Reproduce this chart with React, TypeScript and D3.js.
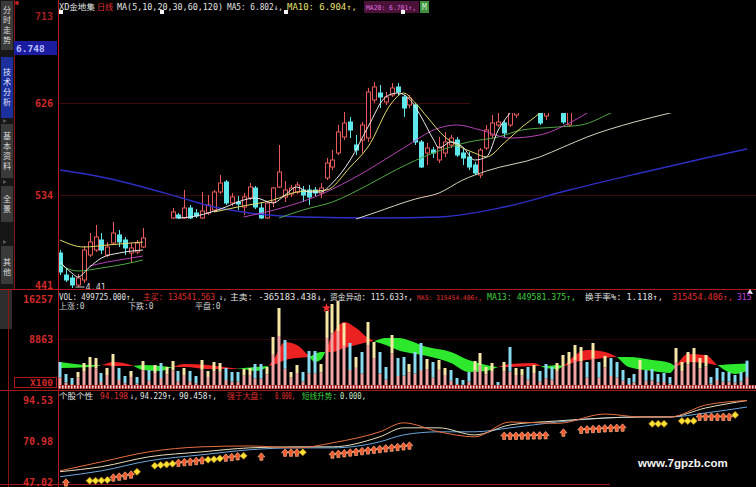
import React from "react";
import * as d3 from "d3";

type Pt = [number, number];

const BAR_COUNT = 117;

// Daily bars: [bar index, open, high, low, close]
const candles: [number, number, number, number, number][] = [
  [0, 4.76, 4.79, 4.54, 4.57], [1, 4.54, 4.61, 4.47, 4.49], [2, 4.51, 4.54, 4.41, 4.44],
  [3, 4.44, 4.55, 4.42, 4.51], [4, 4.49, 4.83, 4.46, 4.79], [5, 4.74, 4.96, 4.72, 4.87],
  [6, 4.79, 5.04, 4.77, 4.92], [7, 4.89, 4.96, 4.75, 4.79], [8, 4.74, 4.87, 4.72, 4.82],
  [9, 4.86, 5.07, 4.84, 4.96], [10, 4.94, 4.99, 4.82, 4.87], [11, 4.89, 4.92, 4.74, 4.81],
  [12, 4.76, 4.86, 4.66, 4.81], [13, 4.77, 4.89, 4.75, 4.86], [14, 4.82, 5.01, 4.81, 4.91],
  [19, 5.11, 5.21, 5.1, 5.17], [20, 5.14, 5.16, 5.1, 5.11], [21, 5.11, 5.39, 5.1, 5.21],
  [22, 5.21, 5.24, 5.1, 5.11], [23, 5.16, 5.2, 5.11, 5.13], [24, 5.11, 5.37, 5.1, 5.18],
  [25, 5.16, 5.34, 5.14, 5.24], [26, 5.19, 5.39, 5.17, 5.37], [27, 5.37, 5.54, 5.35, 5.46],
  [28, 5.47, 5.49, 5.24, 5.26], [29, 5.26, 5.36, 5.23, 5.32], [30, 5.27, 5.33, 5.19, 5.25],
  [31, 5.22, 5.36, 5.14, 5.32], [32, 5.31, 5.46, 5.29, 5.42], [33, 5.41, 5.43, 5.2, 5.22],
  [34, 5.21, 5.26, 5.1, 5.11], [35, 5.11, 5.27, 5.1, 5.26], [36, 5.27, 5.42, 5.22, 5.41],
  [37, 5.42, 5.84, 5.41, 5.57], [38, 5.32, 5.48, 5.27, 5.39], [39, 5.35, 5.44, 5.32, 5.41],
  [40, 5.37, 5.47, 5.35, 5.44], [41, 5.39, 5.43, 5.27, 5.34], [42, 5.39, 5.44, 5.24, 5.32],
  [43, 5.39, 5.42, 5.33, 5.36], [44, 5.36, 5.46, 5.31, 5.41], [45, 5.51, 5.71, 5.49, 5.66],
  [46, 5.62, 5.79, 5.59, 5.69], [47, 5.76, 6.04, 5.74, 5.97], [48, 5.92, 6.17, 5.89, 6.06],
  [49, 6.07, 6.12, 5.91, 5.99], [50, 5.84, 5.94, 5.74, 5.79], [51, 5.89, 6.07, 5.76, 6.04],
  [52, 5.91, 6.41, 5.87, 6.37], [53, 6.29, 6.47, 6.26, 6.42], [54, 6.36, 6.44, 6.21, 6.32],
  [55, 6.27, 6.37, 6.24, 6.32], [56, 6.34, 6.46, 6.32, 6.41], [57, 6.42, 6.46, 6.34, 6.37],
  [58, 6.32, 6.34, 6.12, 6.21], [59, 6.24, 6.34, 6.21, 6.31], [60, 6.24, 6.26, 5.84, 5.87],
  [61, 5.87, 5.89, 5.61, 5.62], [62, 5.76, 5.86, 5.64, 5.81], [63, 5.79, 5.82, 5.71, 5.76],
  [64, 5.69, 5.92, 5.66, 5.82], [65, 5.76, 5.97, 5.72, 5.87], [66, 5.84, 5.94, 5.81, 5.91],
  [67, 5.89, 5.92, 5.72, 5.74], [68, 5.76, 5.81, 5.64, 5.71], [69, 5.72, 5.77, 5.59, 5.62],
  [70, 5.64, 5.67, 5.54, 5.56], [71, 5.54, 5.81, 5.51, 5.79], [72, 5.81, 6.04, 5.79, 5.99],
  [73, 5.94, 6.14, 5.91, 6.06], [74, 6.04, 6.16, 6.02, 6.07], [75, 6.06, 6.09, 5.92, 5.96],
  [76, 6.04, 6.24, 6.02, 6.17], [77, 6.14, 6.29, 6.11, 6.24], [78, 6.22, 6.34, 6.2, 6.3],
  [79, 6.28, 6.4, 6.26, 6.35], [80, 6.33, 6.42, 6.3, 6.38], [81, 6.28, 6.3, 6.04, 6.06],
  [82, 6.13, 6.27, 6.09, 6.24], [83, 6.25, 6.36, 6.22, 6.33], [84, 6.3, 6.38, 6.26, 6.34],
  [85, 6.3, 6.32, 6.05, 6.07], [86, 6.04, 6.24, 6.02, 6.2],
];

// Moving averages of the close: [bar index, price]; null breaks the line
const ma5: (Pt | null)[] = [
  [0, 4.67], [2, 4.56], [3, 4.52], [5, 4.62], [7, 4.71], [10, 4.76], [14, 4.79], null,
  [20, 5.11], [22, 5.12], [25, 5.16], [28, 5.22], [30, 5.27], [33, 5.31], [36, 5.26], [38, 5.34],
  [40, 5.42], [42, 5.37], [44, 5.37], [46, 5.46], [49, 5.69], [52, 6.02], [55, 6.32], [57, 6.36],
  [59, 6.3], [61, 6.12], [63, 5.9], [64, 5.81], [66, 5.87], [68, 5.82], [70, 5.69], [72, 5.72],
  [74, 5.99], [76, 6.16], [78, 6.29], [116, 6.802],
];
const ma10: (Pt | null)[] = [
  [0, 4.89], [4, 4.82], [8, 4.84], [14, 4.87], null,
  [26, 5.17], [30, 5.22], [36, 5.29], [40, 5.37], [45, 5.39], [49, 5.62], [52, 5.82], [56, 6.26],
  [58, 6.36], [60, 6.26], [62, 6.12], [65, 5.92], [67, 5.84], [70, 5.76], [72, 5.72], [75, 5.86],
  [78, 6.02], [81, 6.16], [83, 6.28], [116, 6.904],
];
const ma20: (Pt | null)[] = [
  [5, 4.63], [8, 4.67], [11, 4.7], [14, 4.73], null,
  [31, 5.12], [38, 5.22], [43, 5.32], [49, 5.49], [52, 5.59], [58, 5.81], [64, 6.01], [67, 6.04],
  [71, 5.99], [76, 5.91], [81, 5.94], [86, 6.06], [89, 6.16], [91, 6.24], [116, 6.701],
];
const ma30: (Pt | null)[] = [
  [0, 4.64], [3, 4.58], [7, 4.61], [11, 4.65], [14, 4.69], null,
  [37, 5.11], [41, 5.19], [46, 5.27], [52, 5.44], [57, 5.6], [63, 5.76], [69, 5.87], [74, 5.92],
  [78, 5.99], [84, 6.02], [88, 6.04], [93, 6.16], [96, 6.24],
];
const ma60: (Pt | null)[] = [
  [50, 5.1], [53, 5.16], [60, 5.3], [64, 5.36], [68, 5.49], [72, 5.58], [81, 5.72], [85, 5.82],
  [89, 5.92], [97, 6.07], [103, 6.16], [107, 6.22],
];
const ma120: (Pt | null)[] = [
  [0, 5.59], [7, 5.52], [14, 5.42], [20, 5.32], [26, 5.22], [32, 5.16], [41, 5.12], [54, 5.11],
  [64, 5.12], [75, 5.22], [86, 5.39], [98, 5.56], [109, 5.71], [116, 5.8],
];

// Volume in lots of 100 shares, one per bar
const volumes: number[] = [
  4749, 2557, 1827, 2923, 4567, 5662, 5480, 2740, 3653, 6210, 3653, 2192, 3105, 2009, 4932, 3288,
  4201, 4567, 3836, 4932, 3105, 3653, 3105, 2192, 5114, 3105, 4749, 4567, 3653, 2923, 2923, 3471,
  3653, 4384, 4384, 3836, 9316, 14613, 8768, 2923, 4201, 2923, 6758, 6758, 4384, 14065, 15343, 15891,
  11873, 8220, 5662, 6576, 12056, 8402, 6576, 3836, 9681, 5480, 5662, 4384, 6576, 8220, 5297, 4749,
  5114, 3653, 3288, 1827, 1461, 2923, 4932, 6393, 3836, 4567, 1096, 4749, 7489, 3653, 3471, 3836,
  4201, 3105, 4384, 3836, 4567, 6028, 6576, 7854, 7489, 4749, 8220, 4749, 5845, 5480, 4749, 3288,
  1827, 2557, 5114, 3288, 3471, 2557, 2740, 2009, 7306, 4749, 6576, 7306, 5480, 6028, 2009, 3653,
  2923, 2923, 2375, 2923, 4997.25,
];
// 1 = rising day, 0 = falling day
const volRise: number[] = [
  0, 0, 0, 1, 1, 1, 1, 0, 1, 1, 0, 0, 1, 0, 1, 0, 1, 0, 1, 1, 0, 1, 0, 0, 1, 1, 1, 1, 0, 0, 0, 1,
  1, 0, 0, 1, 1, 1, 0, 1, 1, 0, 0, 0, 1, 1, 1, 1, 1, 0, 1, 0, 1, 1, 0, 0, 1, 0, 0, 1, 0, 0, 1, 0,
  1, 1, 0, 0, 0, 0, 1, 1, 1, 1, 0, 1, 0, 1, 1, 0, 1, 0, 0, 0, 1, 1, 1, 1, 1, 0, 1, 0, 1, 0, 0, 0,
  0, 0, 1, 0, 0, 0, 0, 0, 1, 1, 1, 1, 1, 1, 0, 0, 0, 0, 0, 0, 0,
];
const volMa5: Pt[] = [
  [0, 3653], [5, 3836], [7, 4201], [9, 4749], [12, 4201], [14, 3288], [17, 3105], [19, 3836],
  [21, 4384], [25, 4201], [29, 3653], [31, 3471], [33, 3105], [35, 3836], [36, 5114], [38, 8402],
  [40, 7854], [42, 5845], [43, 4749], [44, 5114], [46, 9681], [48, 12056], [50, 10960], [52, 9133],
  [53, 8585], [55, 7854], [57, 6941], [62, 5845], [66, 4567], [69, 2923], [72, 3105], [74, 3836],
  [76, 4384], [80, 4567], [82, 3653], [84, 3471], [85, 4019], [87, 6028], [89, 6941], [92, 6576],
  [94, 5662], [96, 3836], [100, 3105], [103, 2740], [104, 4019], [106, 6210], [109, 6028],
  [111, 4201], [114, 2557], [116, 3154.54],
];
const volMa13: Pt[] = [
  [0, 4749], [5, 4201], [7, 4201], [9, 4019], [12, 4019], [14, 4201], [17, 4019], [19, 3836],
  [21, 3836], [25, 3471], [29, 3471], [31, 3653], [33, 3836], [35, 4019], [36, 4201], [38, 5114],
  [40, 5480], [42, 5662], [43, 6210], [44, 6576], [46, 6576], [48, 7306], [50, 7854], [52, 8402],
  [53, 8585], [55, 9133], [57, 9133], [62, 7489], [66, 6576], [69, 5114], [72, 4201], [74, 3836],
  [76, 3836], [80, 4019], [82, 4019], [84, 4201], [85, 4019], [87, 4749], [89, 5114], [92, 5480],
  [94, 5662], [96, 5662], [100, 5114], [103, 4567], [104, 4019], [106, 4749], [109, 4567],
  [111, 4201], [114, 4384], [116, 4495.81],
];

// 个股个性 indicator lines
const indOrange: Pt[] = [
  [0, 53.5], [7, 58.7], [15, 64.5], [24, 67.4], [32, 67.9], [40, 66.8], [46, 69.7], [54, 76.1],
  [58, 81.3], [64, 76.1], [70, 73.2], [76, 81.8], [84, 81.0], [92, 86.4], [98, 84.7], [103, 84.7],
  [109, 91.6], [116, 94.198],
];
const indPale: Pt[] = [
  [0, 53.0], [7, 55.9], [15, 61.6], [24, 64.5], [32, 66.8], [40, 67.4], [46, 67.4], [54, 73.2],
  [58, 78.4], [64, 78.4], [70, 74.3], [76, 80.1], [84, 82.4], [92, 84.1], [98, 84.7], [103, 84.7],
  [109, 89.9], [116, 94.229],
];
const indBlue: Pt[] = [
  [0, 50.1], [7, 53.5], [15, 59.3], [24, 62.8], [32, 65.7], [40, 66.8], [46, 66.8], [54, 70.3],
  [58, 74.3], [64, 76.1], [70, 76.1], [76, 78.4], [84, 81.8], [92, 84.1], [98, 84.7], [103, 84.7],
  [109, 87.0], [116, 90.458],
];

// Signals: [bar index, indicator value, kind] ('a' = buy arrow, 'd' = diamond)
const signals: [number, number, string][] = [
  [1, 46.6, "a"],
  [5, 47.8, "d"], [6, 47.8, "d"], [7, 47.9, "d"], [8, 48.2, "d"],
  [9, 49.5, "a"], [10, 50.0, "a"], [11, 50.6, "a"], [12, 51.2, "a"], [13, 52.9, "d"],
  [16, 56.4, "d"], [17, 56.8, "d"], [18, 57.2, "d"], [19, 57.6, "d"],
  [20, 58.0, "a"], [21, 58.4, "a"], [22, 58.7, "a"], [23, 59.1, "a"], [24, 59.5, "a"],
  [25, 59.9, "d"], [26, 60.2, "d"], [27, 60.6, "d"],
  [28, 61.0, "a"], [29, 61.4, "a"], [30, 61.8, "a"], [31, 62.2, "d"],
  [34, 61.6, "a"],
  [38, 63.9, "a"], [39, 63.9, "a"], [40, 63.9, "a"], [41, 64.2, "d"],
  [46, 62.8, "a"], [47, 63.2, "a"], [48, 63.6, "a"], [49, 64.0, "a"], [50, 64.4, "a"],
  [51, 64.8, "a"], [52, 65.2, "a"], [53, 65.6, "a"], [54, 66.0, "a"], [55, 66.4, "a"],
  [56, 66.8, "a"], [57, 67.2, "a"], [58, 67.6, "a"], [59, 68.0, "a"],
  [75, 73.7, "a"], [76, 73.7, "a"], [77, 73.7, "a"], [78, 73.8, "a"], [79, 73.8, "a"],
  [80, 73.9, "a"], [81, 73.9, "a"], [82, 74.0, "a"],
  [85, 75.5, "a"],
  [88, 77.2, "a"], [89, 77.4, "a"], [90, 77.6, "a"], [91, 77.8, "a"], [92, 78.0, "a"],
  [93, 78.2, "a"], [94, 78.3, "a"], [95, 78.4, "a"],
  [100, 80.7, "d"], [101, 80.7, "d"], [102, 80.7, "d"],
  [105, 82.4, "d"], [106, 82.4, "d"], [107, 82.4, "d"],
  [108, 84.7, "a"], [109, 84.7, "a"], [110, 84.7, "a"], [111, 84.7, "a"], [112, 84.7, "a"],
  [113, 84.7, "a"], [114, 85.9, "d"],
];

const priceTicks = [7.13, 6.26, 5.34, 4.41];
const volTicks = [16257, 8863];
const indTicks = [94.53, 70.98, 47.02];
const lastPrice = 6.748;
const lowBar = 2;
const lowPrice = 4.41;
const starBar = 45;

const sideTabs = [
  { label: "分时走势", top: 1, bottom: 50, first: 9, step: 10, active: false },
  { label: "技术分析", top: 57, bottom: 118, first: 71, step: 10, active: true },
  { label: "基本资料", top: 124, bottom: 178, first: 135, step: 10, active: false },
  { label: "全景", top: 186, bottom: 222, first: 198, step: 10, active: false },
  { label: "其他", top: 246, bottom: 284, first: 261, step: 10, active: false },
];

const MONO = "'DejaVu Sans Mono', 'Noto Sans CJK SC', monospace";
const RED = "#d42a2a";

// A text run squeezed into a fixed horizontal span
function Run(props: { x: number; y: number; w: number; fill: string; size?: number; children: string }) {
  return (
    <text x={props.x} y={props.y} fill={props.fill} fontSize={props.size} textLength={props.w} lengthAdjust="spacingAndGlyphs">
      {props.children}
    </text>
  );
}

export default function App() {
  const x = d3.scaleLinear().domain([0, BAR_COUNT - 1]).range([60, 747]);
  const yP = d3.scaleLinear().domain([4.39, 7.29]).range([290, 0]);
  const yV = d3.scaleLinear().domain([0, 16257]).range([388, 299]);
  const yI = d3.scaleLinear().domain([47.02, 94.53]).range([482, 400]);
  const cx = (i: number) => Math.round(x(i)) + 0.5;

  const maPath = d3
    .line<Pt | null>()
    .defined((d) => d !== null)
    .x((d) => x((d as Pt)[0]))
    .y((d) => yP((d as Pt)[1]))
    .curve(d3.curveMonotoneX);

  const volArea = (edge: number) =>
    d3
      .area<Pt>()
      .x((d) => x(d[0]))
      .y0(edge)
      .y1((d) => yV(d[1]))
      .curve(d3.curveMonotoneX);

  const aboveMa13 = volArea(290)(volMa13) || "";
  const belowMa13 = volArea(388)(volMa13) || "";
  const aboveMa5 = volArea(290)(volMa5) || "";
  const belowMa5 = volArea(388)(volMa5) || "";

  const indPath = d3
    .line<Pt>()
    .x((d) => x(d[0]))
    .y((d) => yI(d[1]))
    .curve(d3.curveMonotoneX);

  const maStyles: [(Pt | null)[], string, number][] = [
    [ma120, "#2e2ec4", 1.4],
    [ma60, "#d8d2bc", 1],
    [ma30, "#4fa843", 1],
    [ma20, "#b443b4", 1],
    [ma10, "#e4dc6a", 1],
    [ma5, "#ececec", 1],
  ];

  const star = d3.symbol().type(d3.symbolStar).size(28)() || "";

  return (
    <div style={{ position: "fixed", left: 0, top: 0, width: 756, height: 487, background: "#000" }}>
      <svg width={756} height={487} style={{ display: "block" }} fontFamily={MONO}>
        <defs>
          <clipPath id="price-area">
            <rect x={59} y={14} width={697} height={275} />
          </clipPath>
          <clipPath id="clip-above-ma13">
            <path d={aboveMa13} />
          </clipPath>
          <clipPath id="clip-above-ma5">
            <path d={aboveMa5} />
          </clipPath>
        </defs>
        <rect width={756} height={487} fill="#000" />

        {/* side tabs */}
        <rect x={0} y={0} width={14} height={289} fill="#161616" />
        {sideTabs.map((t) => (
          <g key={t.label}>
            <rect x={1} y={t.top} width={12} height={t.bottom - t.top} fill={t.active ? "#1c2f9c" : "#3a3a3a"} />
            {Array.from(t.label).map((ch, k) => (
              <text key={k} x={7} y={t.first + k * t.step + 3.5} fontSize={8} fill={t.active ? "#e8ecff" : "#dcdcdc"} textAnchor="middle" fontFamily="'Noto Sans CJK SC', sans-serif">
                {ch}
              </text>
            ))}
          </g>
        ))}
        {[121, 182, 242].map((yy) => (
          <path key={yy} d={`M3,${yy - 2} L7,${yy} L3,${yy + 2} Z`} fill="#555" />
        ))}
        <rect x={0} y={289} width={12} height={40} fill="#2e2e2e" />
        <line x1={14.5} y1={0} x2={14.5} y2={289} stroke="#8a1414" />
        <line x1={8.5} y1={289} x2={8.5} y2={487} stroke="#8a1414" />
        <line x1={58.5} y1={0} x2={58.5} y2={487} stroke="#b41c1c" />

        {/* price panel grid and labels */}
        {priceTicks.slice(1, 3).map((t) => (
          <line key={t} x1={59} x2={756} y1={Math.round(yP(t)) + 0.5} y2={Math.round(yP(t)) + 0.5} stroke="#3c0c0c" />
        ))}
        <circle cx={17} cy={3} r={2} fill="#c02020" />
        {priceTicks.map((t, k) => (
          <text key={t} x={53} y={Math.min(Math.max(yP(t), 7), 285) + 4} fontSize={10} fontWeight="bold" fill={k === 0 ? "#a82020" : RED} textAnchor="end">
            {Math.round(t * 100)}
          </text>
        ))}
        <rect x={14} y={41} width={43} height={14} fill="#1c1ca0" />
        <text x={16} y={51.5} fontSize={9.5} fontWeight="bold" fill="#b8c0ff">
          {lastPrice.toFixed(3)}
        </text>

        {/* candles and moving averages */}
        <g clipPath="url(#price-area)">
          {candles.map(([i, o, h, l, c]) => {
            const up = c >= o;
            const xc = cx(i);
            const top = yP(Math.max(o, c));
            const bot = yP(Math.min(o, c));
            const col = up ? "#e85a5a" : "#5ee8ec";
            return (
              <g key={i}>
                <line x1={xc} x2={xc} y1={yP(h)} y2={top} stroke={col} />
                <line x1={xc} x2={xc} y1={bot} y2={yP(l)} stroke={col} />
                <rect x={xc - 2} y={top} width={4} height={Math.max(bot - top, 1)} fill={up ? "#000" : col} stroke={col} strokeWidth={1} />
              </g>
            );
          })}
          {maStyles.map(([data, color, w], k) => (
            <path key={k} d={maPath(data) || ""} fill="none" stroke={color} strokeWidth={w} />
          ))}
          <line x1={cx(lowBar) + 3} x2={cx(lowBar) + 12} y1={yP(lowPrice) - 1} y2={yP(lowPrice) - 1} stroke="#cfcfcf" />
          <text x={cx(lowBar) + 13} y={yP(lowPrice) + 2} fontSize={8.5} fill="#d8d8d8">
            {lowPrice.toFixed(2)}
          </text>
          <rect x={470} y={14} width={286} height={99} fill="#000" />
        </g>

        {/* price title */}
        <rect x={364} y={1} width={55} height={12} fill="#4a1236" />
        <rect x={420} y={1} width={9} height={12} fill="#3f8f3f" />
        <g fontSize={8} fontFamily={MONO}>
          <Run x={59} y={10} w={36} fill="#e4e4e4">XD金地集</Run>
          <Run x={97} y={10} w={16} fill="#e03030">日线</Run>
          <Run x={117} y={10} w={106} fill="#e4e4e4">MA(5,10,20,30,60,120)</Run>
          <Run x={227} y={10} w={56} fill="#e4e4e4">MA5: 6.802↓,</Run>
          <Run x={287} y={10} w={70} fill="#e8e070">MA10: 6.904↑,</Run>
          <Run x={366} y={10} w={50} size={6.6} fill="#e070e8">MA20: 6.701↑,</Run>
          <text x={422} y={10} fill="#d0f8d0">M</text>
        </g>
        {[61, 162, 286, 403].map((mx) => (
          <rect key={mx} x={mx - 2} y={10} width={4} height={4} fill="#f4f4f4" />
        ))}

        {/* volume panel */}
        <line x1={0} x2={756} y1={289.5} y2={289.5} stroke="#b01818" />
        <line x1={59} x2={756} y1={Math.round(yV(8863)) + 0.5} y2={Math.round(yV(8863)) + 0.5} stroke="#2a0808" />
        <path d={belowMa5} fill="#ec2222" clipPath="url(#clip-above-ma13)" />
        <path d={belowMa13} fill="#2ee82e" clipPath="url(#clip-above-ma5)" />
        {volumes.map((v, i) => {
          const xc = Math.round(x(i));
          const top = yV(v);
          const base = 388;
          const frac = volRise[i] ? 0.35 : 0.6;
          const split = top + (base - top) * frac;
          return (
            <g key={i}>
              <rect x={xc - 1.5} y={split} width={3} height={base - split} fill="#f2a4a4" />
              <rect x={xc - 1.5} y={top} width={3} height={split - top} fill={volRise[i] ? "#f6e6a6" : "#88daf0"} />
            </g>
          );
        })}
        <path d={star} transform={`translate(${x(starBar)},${yV(volumes[starBar]) - 3})`} fill="#ff3030" />
        <path d="M747,294 L750,289 L753,294 Z" fill="#dddddd" />
        {volTicks.map((t) => (
          <text key={t} x={53} y={yV(t) + 4} fontSize={10} fontWeight="bold" fill={RED} textAnchor="end">
            {t}
          </text>
        ))}
        <rect x={14.5} y={377.5} width={42} height={10} fill="none" stroke="#b01818" />
        <text x={53} y={386} fontSize={9.5} fontWeight="bold" fill={RED} textAnchor="end">X100</text>
        <g fontSize={8} fontFamily={MONO}>
          <Run x={59} y={300} w={76} fill="#e4e4e4">VOL: 499725.000↑,</Run>
          <Run x={143} y={300} w={72} fill="#e03030">主买: 134541.563</Run>
          <Run x={219} y={300} w={8} fill="#e4e4e4">↓,</Run>
          <Run x={230} y={300} w={97} fill="#e4e4e4">主卖: -365183.438↓,</Run>
          <Run x={330} y={300} w={83} fill="#e4e4e4">资金异动: 115.633↑,</Run>
          <Run x={417} y={300} w={65} size={6.6} fill="#e03030">MA5: 315454.406↑,</Run>
          <Run x={487} y={300} w={89} fill="#40d040">MA13: 449581.375↑,</Run>
          <Run x={585} y={300} w={78} fill="#e4e4e4">换手率%: 1.118↑,</Run>
          <Run x={672} y={300} w={61} fill="#e03030">315454.406↑,</Run>
          <text x={737} y={300} fill="#c040e0">315</text>
          <text x={59} y={309} fill="#cfcfcf">上涨:0</text>
          <text x={128} y={309} fill="#cfcfcf">下跌:0</text>
          <text x={195} y={309} fill="#cfcfcf">平盘:0</text>
        </g>

        {/* indicator panel */}
        <rect x={59} y={385} width={697} height={4} fill="#a01a1a" />
        <line x1={59} x2={756} y1={387} y2={387} stroke="#f4d8d8" strokeWidth={3} strokeDasharray="1.5 1.5" />
        <line x1={0} x2={756} y1={390.5} y2={390.5} stroke="#a01818" />
        <line x1={0} x2={610} y1={484.5} y2={484.5} stroke="#a01818" />
        {indTicks.map((t) => (
          <text key={t} x={53} y={yI(t) + 4} fontSize={10} fontWeight="bold" fill={RED} textAnchor="end">
            {t.toFixed(2)}
          </text>
        ))}
        <path d={indPath(indBlue) || ""} fill="none" stroke="#6aa8e0" />
        <path d={indPath(indPale) || ""} fill="none" stroke="#e6dfbf" />
        <path d={indPath(indOrange) || ""} fill="none" stroke="#e87040" />
        {signals.map(([i, v, kind], k) => {
          const sx = x(i);
          const sy = yI(v);
          return kind === "d" ? (
            <path key={k} d={`M${sx},${sy - 3.5} L${sx + 3.5},${sy} L${sx},${sy + 3.5} L${sx - 3.5},${sy} Z`} fill="#f6e232" stroke="#c8861e" strokeWidth={0.7} />
          ) : (
            <path key={k} d={`M${sx},${sy - 4} L${sx + 3.5},${sy} L${sx + 1.5},${sy} L${sx + 1.5},${sy + 3.5} L${sx - 1.5},${sy + 3.5} L${sx - 1.5},${sy} L${sx - 3.5},${sy} Z`} fill="#f05a30" stroke="#ffb488" strokeWidth={0.7} />
          );
        })}
        <g fontSize={8} fontFamily={MONO}>
          <Run x={59} y={399} w={34} fill="#e4e4e4">个股个性</Run>
          <Run x={100} y={399} w={28} fill="#e03030">94.198</Run>
          <Run x={130} y={399} w={8} fill="#e4e4e4">↓,</Run>
          <Run x={140} y={399} w={36} fill="#e4e4e4">94.229↑,</Run>
          <Run x={179} y={399} w={38} fill="#e4e4e4">90.458↑,</Run>
          <Run x={227} y={399} w={36} fill="#e03030">强于大盘:</Run>
          <Run x={275} y={399} w={20} fill="#e03030">0.000,</Run>
          <Run x={302} y={399} w={35} fill="#40d040">短线升势:</Run>
          <Run x={340} y={399} w={26} fill="#c8e8c8">0.000,</Run>
        </g>
        <text x={638} y={467} fontSize={11.5} fontWeight="bold" fill="#f4f4f4" fontFamily="'Liberation Sans', Arial, sans-serif">
          www.7gpzb.com
        </text>
      </svg>
    </div>
  );
}
